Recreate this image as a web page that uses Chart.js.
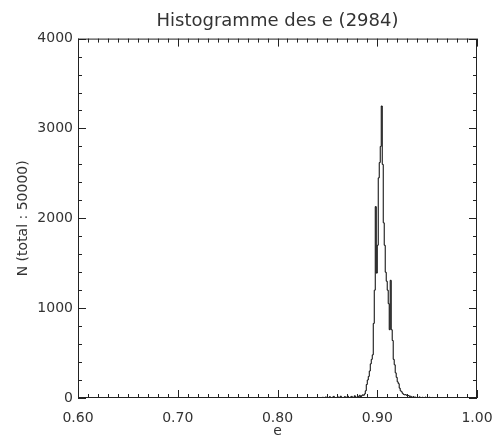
<!DOCTYPE html>
<html><head><meta charset="utf-8">
<script src="https://cdn.jsdelivr.net/npm/chart.js@4.4.1/dist/chart.umd.min.js"></script>
<style>html,body{margin:0;padding:0;background:#fff}canvas{display:block}</style>
</head><body>
<canvas id="c" width="495" height="438"></canvas>
<script>
const titleText = 'Histogramme des e (2984)';
const xLabel = 'e';
const yLabel = 'N (total : 50000)';
const xTicks = [0.60, 0.70, 0.80, 0.90, 1.00];
const yTicks = [0, 1000, 2000, 3000, 4000];
const xMinorStep = 0.01;
const yMinorStep = 200;
const binStart = 0.845;
const binWidth = 0.001;
const counts = [
  0, 8, 0, 0, 12, 0, 5, 0, 15, 0,
  0, 10, 18, 0, 5, 0, 14, 0, 8, 20,
  0, 6, 0, 15, 10, 0, 22, 5, 0, 12,
  18, 0, 8, 25, 10, 5, 20, 15, 30, 12,
  25, 35, 30, 45, 80, 150, 200, 240, 300, 380,
  430, 480, 830, 1200, 2130, 1390, 1700, 2450, 2620, 2800,
  3250, 2600, 1950, 1700, 1400, 1300, 1200, 1050, 760, 1310,
  760, 640, 430, 370, 280, 230, 180, 160, 110, 80,
  70, 52, 40, 35, 38, 30, 25, 28, 18, 20,
  12, 8, 15, 5, 10, 3, 8, 0, 12, 5,
  0, 8, 3, 0, 10, 0, 5, 0, 8, 0,
  0, 6, 0, 4, 0, 0, 5, 0, 0, 3,
  0
];

const points = counts.map((c, i) => ({ x: binStart + i * binWidth, y: c }));
points.push({ x: binStart + counts.length * binWidth, y: 0 });

const FONT = 'DejaVu Sans';
const TXT = '#333';

const frameTicks = {
  id: 'frameTicks',
  afterDraw(chart) {
    const { ctx, chartArea: a, scales: { x, y } } = chart;
    ctx.save();
    ctx.strokeStyle = '#222';
    ctx.lineWidth = 1;
    ctx.strokeRect(a.left + 0.5, a.top + 0.5, a.right - a.left - 1, a.bottom - a.top - 1);
    ctx.beginPath();
    const x0 = xTicks[0], x1 = xTicks[xTicks.length - 1];
    const nx = Math.round((x1 - x0) / xMinorStep);
    const xMajEvery = Math.round((xTicks[1] - xTicks[0]) / xMinorStep);
    for (let k = 0; k <= nx; k++) {
      const px = Math.round(x.getPixelForValue(x0 + k * xMinorStep)) + 0.5;
      const L = (k % xMajEvery === 0) ? 8 : 4;
      ctx.moveTo(px, a.bottom); ctx.lineTo(px, a.bottom - L);
      ctx.moveTo(px, a.top); ctx.lineTo(px, a.top + L);
    }
    const y0 = yTicks[0], y1 = yTicks[yTicks.length - 1];
    const ny = Math.round((y1 - y0) / yMinorStep);
    const yMajEvery = Math.round((yTicks[1] - yTicks[0]) / yMinorStep);
    for (let k = 0; k <= ny; k++) {
      const py = Math.round(y.getPixelForValue(y0 + k * yMinorStep)) + 0.5;
      const L = (k % yMajEvery === 0) ? 8 : 4;
      ctx.moveTo(a.left, py); ctx.lineTo(a.left + L, py);
      ctx.moveTo(a.right, py); ctx.lineTo(a.right - L, py);
    }
    ctx.stroke();
    ctx.restore();
  }
};

new Chart(document.getElementById('c'), {
  type: 'line',
  data: {
    datasets: [{
      data: points,
      borderColor: '#000',
      borderWidth: 1,
      pointRadius: 0,
      stepped: 'after',
      fill: false
    }]
  },
  options: {
    responsive: false,
    animation: false,
    layout: { padding: { left: 0, right: 18, top: 0, bottom: 0 } },
    plugins: {
      legend: { display: false },
      tooltip: { enabled: false },
      title: {
        display: true,
        text: titleText,
        fullSize: false,
        color: TXT,
        font: { family: FONT, size: 18, weight: 'normal' },
        padding: { top: 11, bottom: 6 }
      }
    },
    scales: {
      x: {
        type: 'linear',
        min: xTicks[0],
        max: xTicks[xTicks.length - 1],
        afterBuildTicks: s => { s.ticks = xTicks.map(v => ({ value: v })); },
        afterFit: s => { s.height = 40; s.paddingLeft = 0; s.paddingRight = 0; },
        grid: { display: false, drawTicks: false },
        border: { display: false },
        ticks: {
          color: TXT,
          padding: 12,
          maxRotation: 0,
          font: { family: FONT, size: 14 },
          callback: v => Number(v).toFixed(2)
        },
        title: {
          display: true,
          text: xLabel,
          color: TXT,
          font: { family: FONT, size: 14 },
          padding: { top: 0, bottom: -2 }
        }
      },
      y: {
        min: yTicks[0],
        max: yTicks[yTicks.length - 1],
        afterBuildTicks: s => { s.ticks = yTicks.map(v => ({ value: v })); },
        afterFit: s => { s.width = 78; s.paddingTop = 0; s.paddingBottom = 0; },
        grid: { display: false, drawTicks: false },
        border: { display: false },
        ticks: {
          color: TXT,
          padding: 5,
          font: { family: FONT, size: 14 },
          callback: v => String(v)
        },
        title: {
          display: true,
          text: yLabel,
          color: TXT,
          font: { family: FONT, size: 14 },
          padding: { top: 15, bottom: 0 }
        }
      }
    }
  },
  plugins: [frameTicks]
});
</script>
</body></html>
